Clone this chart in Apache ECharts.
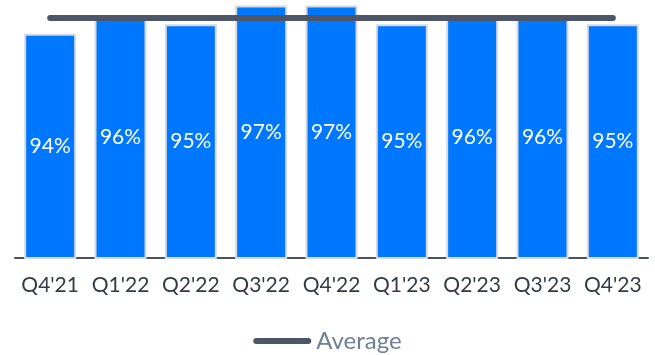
<!DOCTYPE html>
<html>
<head>
<meta charset="utf-8">
<script src="https://cdn.jsdelivr.net/npm/echarts@6/dist/echarts.min.js"></script>
<style>
  html, body { margin: 0; padding: 0; background: #ffffff; }
  #chart { width: 655px; height: 355px; }
</style>
</head>
<body>
<div id="chart"></div>
<script>
// Quarterly percentages shown as bars, with their average as a line
const quarters = ["Q4'21", "Q1'22", "Q2'22", "Q3'22", "Q4'22", "Q1'23", "Q2'23", "Q3'23", "Q4'23"];
const percentValues = [94, 96, 95, 97, 97, 95, 96, 96, 95];

const avgValue = percentValues.reduce((a, b) => a + b, 0) / percentValues.length;
const avgLine = quarters.map(() => avgValue);

const FONT = 'Lato, "Open Sans", sans-serif';
const AVG_COLOR = '#4d5668';

const chart = echarts.init(document.getElementById('chart'));
chart.setOption({
  animation: false,
  grid: { left: 15, right: 7, top: 0, bottom: 97, containLabel: false },
  legend: {
    data: [{ name: 'Average', icon: 'path://M3,0 L55,0 A3,3 0 0 1 55,6 L3,6 A3,3 0 0 1 3,0 Z' }],
    bottom: -3,
    left: 'center',
    itemWidth: 58,
    itemHeight: 6,
    itemGap: 3,
    textStyle: { color: '#6f7f95', fontSize: 24, fontFamily: FONT }
  },
  xAxis: {
    type: 'category',
    data: quarters,
    axisTick: { show: false },
    axisLine: { lineStyle: { color: '#4b5262', width: 2 } },
    axisLabel: { color: '#333b47', fontSize: 21, fontFamily: FONT, margin: 17, interval: 0 }
  },
  yAxis: {
    type: 'value',
    min: 70,
    max: 97.6,
    show: false,
    splitLine: { show: false }
  },
  series: [
    {
      name: 'Share',
      type: 'bar',
      data: percentValues,
      barWidth: 52,
      itemStyle: { color: '#0077ff', borderColor: '#d9d9d9', borderWidth: 2 },
      label: {
        show: true,
        position: 'inside',
        color: '#ffffff',
        fontSize: 21,
        fontFamily: FONT,
        formatter: p => p.value + '%'
      },
      z: 2
    },
    {
      name: 'Average',
      type: 'line',
      data: avgLine,
      symbol: 'none',
      lineStyle: { color: AVG_COLOR, width: 6, cap: 'round' },
      itemStyle: { color: AVG_COLOR },
      z: 5
    }
  ]
});
</script>
</body>
</html>
